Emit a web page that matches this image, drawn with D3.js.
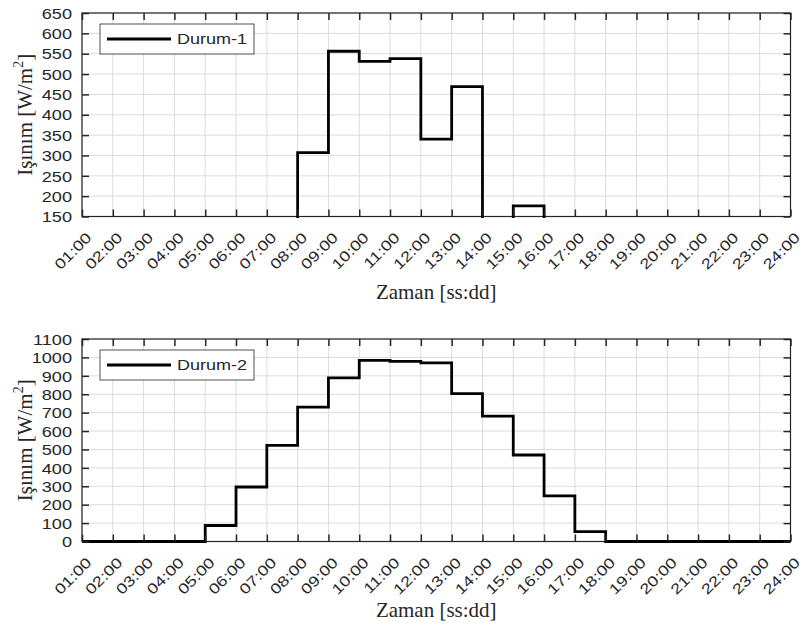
<!DOCTYPE html>
<html>
<head>
<meta charset="utf-8">
<script src="https://cdn.jsdelivr.net/npm/d3@7"></script>
<style>
  body { margin: 0; background: #fff; }
  svg { display: block; }
  .serif { font-family: "Liberation Serif", "Times New Roman", "DejaVu Serif", serif; font-size: 21px; }
  .sans { font-family: "Liberation Sans", Arial, sans-serif; }
</style>
</head>
<body>
<svg id="chart" width="803" height="634"></svg>
<script>
// saat etiketleri (x ekseni)
const saatler = ["01:00", "02:00", "03:00", "04:00", "05:00", "06:00", "07:00", "08:00",
  "09:00", "10:00", "11:00", "12:00", "13:00", "14:00", "15:00", "16:00",
  "17:00", "18:00", "19:00", "20:00", "21:00", "22:00", "23:00", "24:00"];

// Durum-1 ve Durum-2 isinim degerleri [W/m2]
const durum1 = [0, 0, 0, 0, 0, 0, 0, 307, 556, 531, 538, 340, 469, 0, 176, 0, 0, 0, 0, 0, 0, 0, 0, 0];
const durum2 = [0, 0, 0, 0, 87, 296, 522, 730, 889, 984, 979, 970, 803, 681, 470, 248, 54, 0, 0, 0, 0, 0, 0, 0];

// y ekseni tick degerleri
const yTicks1 = [150, 200, 250, 300, 350, 400, 450, 500, 550, 600, 650];
const yTicks2 = [0, 100, 200, 300, 400, 500, 600, 700, 800, 900, 1000, 1100];

const panels = [
  { id: 1, values: durum1, name: "Durum-1", ticks: yTicks1, top: 13, bottom: 216.5, labelY: 299 },
  { id: 2, values: durum2, name: "Durum-2", ticks: yTicks2, top: 339, bottom: 541.5, labelY: 616.5 }
];

const left = 82, right = 790.5;
const axisColor = "#262626";
const stretch = 1.25;

const svg = d3.select("#chart");
const defs = svg.append("defs");

const x = d3.scalePoint().domain(saatler).range([left, right]);

panels.forEach(p => {
  const y = d3.scaleLinear()
    .domain([p.ticks[0], p.ticks[p.ticks.length - 1]])
    .range([p.bottom, p.top]);

  const g = svg.append("g");

  // grid
  g.append("g").selectAll("line")
    .data(saatler)
    .join("line")
      .attr("x1", d => x(d)).attr("x2", d => x(d))
      .attr("y1", p.top).attr("y2", p.bottom)
      .attr("stroke", "#dcdcdc").attr("stroke-width", 1);
  g.append("g").selectAll("line")
    .data(p.ticks)
    .join("line")
      .attr("x1", left).attr("x2", right)
      .attr("y1", d => y(d)).attr("y2", d => y(d))
      .attr("stroke", "#dcdcdc").attr("stroke-width", 1);

  // kutu
  g.append("rect")
    .attr("x", left).attr("y", p.top)
    .attr("width", right - left).attr("height", p.bottom - p.top)
    .attr("fill", "none").attr("stroke", axisColor).attr("stroke-width", 1.2);

  // veri cizgisi (stairs)
  defs.append("clipPath").attr("id", "clip" + p.id)
    .append("rect")
      .attr("x", left - 2).attr("y", p.top - 1.5)
      .attr("width", right - left + 4).attr("height", p.bottom - p.top + 3);

  const line = d3.line()
    .x((d, i) => x(saatler[i]))
    .y(d => y(d))
    .curve(d3.curveStepAfter);

  g.append("path")
    .datum(p.values)
    .attr("clip-path", "url(#clip" + p.id + ")")
    .attr("d", line)
    .attr("fill", "none")
    .attr("stroke", "#000")
    .attr("stroke-width", 2.8);

  // eksenler (ticks iceri dogru)
  const xAxis = g.append("g")
    .attr("transform", `translate(0,${p.bottom})`)
    .call(d3.axisBottom(x).tickSizeInner(-7).tickSizeOuter(0));
  xAxis.selectAll("text")
    .attr("x", null).attr("y", null).attr("dy", null)
    .attr("text-anchor", "end")
    .attr("transform", `translate(10,22) rotate(-45) scale(${stretch},1)`);

  g.append("g")
    .attr("transform", `translate(0,${p.top})`)
    .call(d3.axisTop(x).tickSizeInner(-7).tickSizeOuter(0).tickFormat(""));

  const yAxis = g.append("g")
    .attr("transform", `translate(${left},0)`)
    .call(d3.axisLeft(y).tickValues(p.ticks).tickFormat(d3.format("d")).tickSizeInner(-7).tickSizeOuter(0));
  yAxis.selectAll("text")
    .attr("x", null)
    .attr("dy", "0.36em")
    .attr("text-anchor", "end")
    .attr("transform", `translate(-10,0) scale(${stretch},1)`);

  g.append("g")
    .attr("transform", `translate(${right},0)`)
    .call(d3.axisRight(y).tickValues(p.ticks).tickSizeInner(-7).tickSizeOuter(0).tickFormat(""));

  g.selectAll(".domain").remove();
  g.selectAll(".tick line").attr("stroke", axisColor).attr("stroke-width", 1.5);
  g.selectAll("g").attr("font-family", null).attr("font-size", null);
  g.selectAll(".tick text")
    .attr("fill", axisColor)
    .attr("class", "sans")
    .style("font-size", "14.5px");

  // legend
  const lg = g.append("g").attr("transform", `translate(100,${p.top + 11})`);
  lg.append("rect")
    .attr("width", 154).attr("height", 30)
    .attr("fill", "#fff").attr("stroke", axisColor).attr("stroke-width", 0.8);
  lg.append("line")
    .attr("x1", 7).attr("x2", 71).attr("y1", 15).attr("y2", 15)
    .attr("stroke", "#000").attr("stroke-width", 3);
  lg.append("text")
    .attr("class", "sans")
    .attr("transform", `translate(77,15) scale(1.2,1)`)
    .attr("dy", "0.36em")
    .attr("fill", axisColor)
    .style("font-size", "15px")
    .text(p.name);

  // eksen basliklari
  g.append("text")
    .attr("class", "serif")
    .attr("x", (left + right) / 2).attr("y", p.labelY)
    .attr("text-anchor", "middle")
    .attr("fill", axisColor)
    .text("Zaman [ss:dd]");

  const yl = g.append("text")
    .attr("class", "serif")
    .attr("transform", `translate(32,${(p.top + p.bottom) / 2}) rotate(-90)`)
    .attr("text-anchor", "middle")
    .attr("fill", axisColor);
  yl.append("tspan").text("Işınım [W/m");
  yl.append("tspan").attr("dy", -9).style("font-size", "14px").text("2");
  yl.append("tspan").attr("dy", 9).text("]");
});
</script>
</body>
</html>
